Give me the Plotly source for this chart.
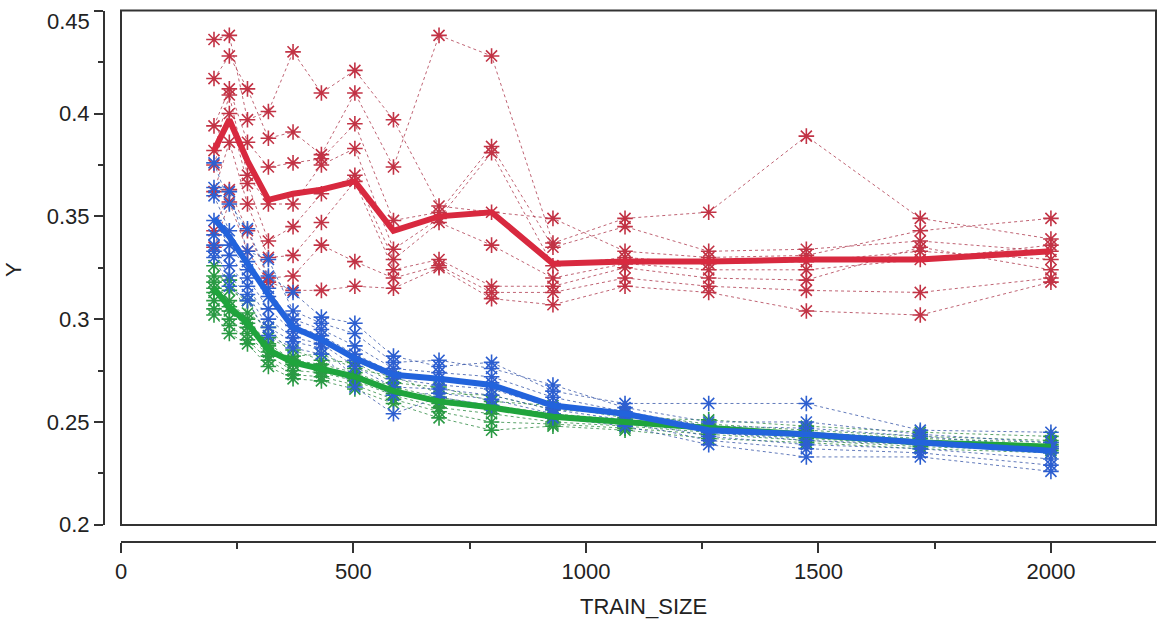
import plotly.graph_objects as go

# Training-set sizes (x positions of every column)
train_size = [200, 233, 272, 317, 370, 431, 503, 586, 684, 797, 929, 1084, 1264, 1474, 1719, 2000]

# Averaged curves (thick lines)
red_mean = [0.382, 0.397, 0.377, 0.358, 0.361, 0.363, 0.367, 0.343, 0.350, 0.352, 0.327, 0.328, 0.328, 0.329, 0.329, 0.333]
blue_mean = [0.349, 0.340, 0.327, 0.312, 0.296, 0.290, 0.281, 0.273, 0.271, 0.268, 0.258, 0.254, 0.246, 0.244, 0.240, 0.236]
green_mean = [0.315, 0.306, 0.298, 0.285, 0.279, 0.276, 0.272, 0.265, 0.260, 0.257, 0.2525, 0.250, 0.247, 0.244, 0.240, 0.238]

# Individual runs (thin dotted lines with star markers)
red_runs = [
    [0.436, 0.438, 0.397, 0.401, 0.430, 0.410, 0.421, 0.397, 0.355, 0.352, 0.349, 0.333, 0.330, 0.331, 0.343, 0.349],
    [0.417, 0.428, 0.412, 0.388, 0.391, 0.380, 0.410, 0.374, 0.438, 0.428, 0.337, 0.349, 0.352, 0.389, 0.349, 0.339],
    [0.394, 0.412, 0.386, 0.374, 0.376, 0.378, 0.395, 0.348, 0.352, 0.384, 0.335, 0.345, 0.333, 0.334, 0.338, 0.333],
    [0.382, 0.409, 0.370, 0.356, 0.356, 0.375, 0.383, 0.334, 0.349, 0.381, 0.326, 0.330, 0.327, 0.328, 0.333, 0.329],
    [0.375, 0.400, 0.366, 0.338, 0.345, 0.361, 0.370, 0.329, 0.347, 0.336, 0.320, 0.327, 0.324, 0.324, 0.329, 0.336],
    [0.362, 0.386, 0.356, 0.330, 0.331, 0.347, 0.367, 0.324, 0.329, 0.316, 0.316, 0.325, 0.320, 0.319, 0.335, 0.324],
    [0.343, 0.363, 0.343, 0.320, 0.321, 0.336, 0.328, 0.320, 0.326, 0.313, 0.313, 0.320, 0.316, 0.314, 0.313, 0.320],
    [0.335, 0.357, 0.333, 0.318, 0.314, 0.314, 0.316, 0.315, 0.325, 0.310, 0.307, 0.316, 0.313, 0.304, 0.302, 0.318],
]
blue_runs = [
    [0.376, 0.356, 0.344, 0.321, 0.313, 0.301, 0.298, 0.282, 0.277, 0.279, 0.265, 0.259, 0.259, 0.259, 0.246, 0.245],
    [0.364, 0.362, 0.333, 0.329, 0.304, 0.298, 0.293, 0.279, 0.280, 0.276, 0.268, 0.257, 0.250, 0.250, 0.244, 0.240],
    [0.360, 0.343, 0.328, 0.311, 0.300, 0.295, 0.287, 0.276, 0.274, 0.272, 0.262, 0.255, 0.248, 0.247, 0.243, 0.238],
    [0.348, 0.336, 0.324, 0.315, 0.297, 0.292, 0.283, 0.274, 0.271, 0.269, 0.259, 0.254, 0.247, 0.244, 0.241, 0.237],
    [0.341, 0.331, 0.320, 0.305, 0.294, 0.290, 0.280, 0.271, 0.268, 0.266, 0.257, 0.253, 0.245, 0.241, 0.239, 0.235],
    [0.336, 0.326, 0.316, 0.300, 0.291, 0.288, 0.277, 0.267, 0.266, 0.263, 0.256, 0.251, 0.243, 0.239, 0.237, 0.232],
    [0.333, 0.321, 0.312, 0.296, 0.289, 0.286, 0.272, 0.263, 0.264, 0.261, 0.254, 0.250, 0.241, 0.237, 0.235, 0.229],
    [0.330, 0.316, 0.309, 0.292, 0.286, 0.283, 0.267, 0.254, 0.262, 0.258, 0.252, 0.248, 0.239, 0.233, 0.233, 0.226],
]
green_runs = [
    [0.326, 0.314, 0.309, 0.291, 0.285, 0.280, 0.279, 0.269, 0.267, 0.260, 0.258, 0.252, 0.251, 0.248, 0.245, 0.243],
    [0.321, 0.319, 0.303, 0.296, 0.282, 0.283, 0.276, 0.272, 0.264, 0.263, 0.256, 0.254, 0.249, 0.246, 0.243, 0.241],
    [0.318, 0.309, 0.300, 0.288, 0.280, 0.278, 0.274, 0.267, 0.262, 0.258, 0.254, 0.251, 0.248, 0.245, 0.242, 0.240],
    [0.315, 0.306, 0.298, 0.287, 0.279, 0.276, 0.272, 0.266, 0.260, 0.257, 0.253, 0.250, 0.247, 0.244, 0.241, 0.239],
    [0.313, 0.304, 0.296, 0.284, 0.278, 0.275, 0.271, 0.264, 0.259, 0.256, 0.252, 0.249, 0.246, 0.243, 0.240, 0.238],
    [0.309, 0.300, 0.293, 0.282, 0.275, 0.274, 0.270, 0.263, 0.257, 0.254, 0.250, 0.248, 0.245, 0.242, 0.239, 0.237],
    [0.305, 0.297, 0.290, 0.280, 0.273, 0.272, 0.268, 0.261, 0.255, 0.250, 0.249, 0.247, 0.244, 0.241, 0.238, 0.236],
    [0.302, 0.293, 0.288, 0.277, 0.271, 0.270, 0.266, 0.259, 0.252, 0.246, 0.248, 0.246, 0.242, 0.240, 0.237, 0.235],
]

x_ticks = [0, 500, 1000, 1500, 2000]
x_minor_ticks = [250, 750, 1250, 1750]
y_ticks = [0.2, 0.25, 0.3, 0.35, 0.4, 0.45]
y_minor_ticks = [0.225, 0.275, 0.325, 0.375, 0.425]
# the top label is set a little below its tick so it stays inside the page
y_tick_text = ["0.2", "0.25", "0.3", "0.35", "0.4", ""]
y_top_label = "0.45"

RED_LINE, RED_MARK, RED_DOT = "#d8293f", "#c23345", "rgba(175,60,80,0.8)"
BLUE_LINE, BLUE_MARK, BLUE_DOT = "#2263dc", "#2d5fd0", "rgba(60,90,170,0.8)"
GREEN_LINE, GREEN_MARK, GREEN_DOT = "#1fa43c", "#2a9a44", "rgba(50,140,70,0.8)"

W, H = 1157, 620
FONT = "Liberation Sans, Arial, sans-serif"
TEXT = "#222222"
FSIZE = 22

fig = go.Figure()


def add_runs(runs, mark_color, dot_color):
    for run in runs:
        fig.add_trace(go.Scatter(
            x=train_size, y=run, mode="lines+markers",
            line=dict(color=dot_color, width=1, dash="dot"),
            marker=dict(symbol="asterisk-open", size=13, color=mark_color,
                        line=dict(width=1.6, color=mark_color)),
            showlegend=False, hoverinfo="skip"))


add_runs(red_runs, RED_MARK, RED_DOT)
add_runs(green_runs, GREEN_MARK, GREEN_DOT)
add_runs(blue_runs, BLUE_MARK, BLUE_DOT)

for mean, color in [(red_mean, RED_LINE), (green_mean, GREEN_LINE), (blue_mean, BLUE_LINE)]:
    fig.add_trace(go.Scatter(x=train_size, y=mean, mode="lines",
                             line=dict(color=color, width=6),
                             showlegend=False, hoverinfo="skip"))

# plot frame and detached axes, all placed in pixel-derived paper units
fx0, fx1 = 121 / W, 1156 / W
fy0, fy1 = 1 - 525 / H, 1 - 10.5 / H
AXIS = "#333333"

fig.update_layout(
    width=W, height=H,
    margin=dict(l=0, r=0, t=0, b=0),
    paper_bgcolor="white", plot_bgcolor="white",
    font=dict(family=FONT, size=FSIZE, color=TEXT),
    xaxis=dict(
        domain=[fx0, fx1], range=[0, 2226], anchor="free", position=1 - 542 / H,
        showgrid=False, zeroline=False,
        showline=True, linecolor=AXIS, linewidth=2,
        ticks="outside", ticklen=10, tickwidth=2, tickcolor=AXIS,
        tickmode="array", tickvals=x_ticks, ticktext=[str(v) for v in x_ticks],
        minor=dict(tickmode="array", tickvals=x_minor_ticks, ticks="outside",
                   ticklen=6, tickwidth=2, tickcolor=AXIS, showgrid=False),
        automargin=False,
    ),
    yaxis=dict(
        domain=[fy0, fy1], range=[0.1999, 0.4501], anchor="free", position=104 / W,
        showgrid=False, zeroline=False,
        showline=True, linecolor=AXIS, linewidth=2,
        ticks="outside", ticklen=9, tickwidth=2, tickcolor=AXIS,
        tickmode="array", tickvals=y_ticks, ticktext=y_tick_text,
        minor=dict(tickmode="array", tickvals=y_minor_ticks, ticks="outside",
                   ticklen=5, tickwidth=2, tickcolor=AXIS, showgrid=False),
        automargin=False,
    ),
    shapes=[dict(type="rect", xref="paper", yref="paper",
                 x0=fx0, x1=fx1, y0=fy0, y1=fy1,
                 line=dict(color=AXIS, width=2), layer="above")],
    annotations=[
        dict(text=y_top_label, xref="paper", yref="paper",
             x=92 / W, y=1 - 21 / H, showarrow=False,
             xanchor="right", yanchor="middle", font=dict(size=FSIZE)),
        dict(text="TRAIN_SIZE", xref="paper", yref="paper",
             x=643 / W, y=1 - 606 / H, showarrow=False,
             xanchor="center", yanchor="middle", font=dict(size=FSIZE)),
        dict(text="Y", xref="paper", yref="paper", textangle=-90,
             x=13 / W, y=1 - 270 / H, showarrow=False,
             xanchor="center", yanchor="middle", font=dict(size=FSIZE)),
    ],
)

fig.write_html("out.html")
